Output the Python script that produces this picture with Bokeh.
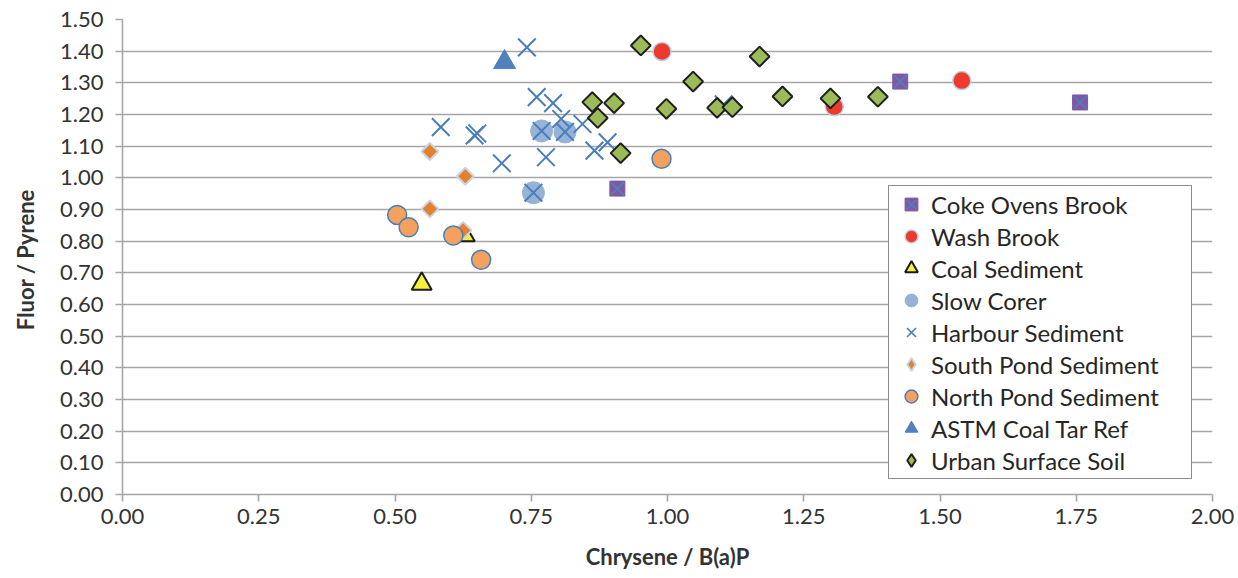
import math
from bokeh.plotting import figure
from bokeh.models import FixedTicker, NumeralTickFormatter, Legend, LegendItem, Range1d
from bokeh.embed import file_html
from bokeh.resources import INLINE

# ---- data ----
coke_x = [1.427, 1.757, 0.908]
coke_y = [1.304, 1.238, 0.966]

wash_x = [0.990, 1.306, 1.540]
wash_y = [1.399, 1.225, 1.307]

coal_x = [0.549, 0.628]
coal_y = [0.665, 0.818]

slow_x = [0.769, 0.812, 0.754]
slow_y = [1.148, 1.145, 0.953]

harb_x = [0.742, 0.760, 0.790, 0.805, 0.844, 0.584, 0.646, 0.651, 0.769, 0.812,
          0.890, 0.866, 0.777, 0.696, 0.754, 1.103]
harb_y = [1.412, 1.255, 1.236, 1.186, 1.170, 1.160, 1.134, 1.140, 1.148, 1.145,
          1.112, 1.086, 1.065, 1.046, 0.953, 1.232]

south_x = [0.564, 0.629, 0.564, 0.625]
south_y = [1.083, 1.005, 0.902, 0.834]

north_x = [0.504, 0.525, 0.607, 0.658, 0.989]
north_y = [0.883, 0.844, 0.818, 0.741, 1.060]

astm_x = [0.701]
astm_y = [1.365]

urban_x = [0.951, 1.047, 0.862, 0.902, 0.998, 0.872, 0.914, 1.169, 1.091, 1.119,
           1.211, 1.299, 1.386]
urban_y = [1.418, 1.304, 1.239, 1.236, 1.218, 1.189, 1.078, 1.383, 1.221, 1.223,
           1.257, 1.251, 1.256]

x_ticks = [0, 0.25, 0.5, 0.75, 1.0, 1.25, 1.5, 1.75, 2.0]
y_ticks = [round(i * 0.1, 2) for i in range(16)]

FONT = "Lato"
TXT = "#333333"
GRID = "#A6A6A6"

p = figure(width=1238, height=578, output_backend="svg", toolbar_location=None,
           x_range=Range1d(0, 2.0), y_range=Range1d(0, 1.5),
           min_border_left=122, min_border_right=26, min_border_top=19,
           min_border_bottom=84)
p.outline_line_color = None
p.background_fill_color = "white"
p.border_fill_color = "white"

p.xgrid.grid_line_color = None
p.ygrid.grid_line_color = GRID
p.ygrid.grid_line_width = 1.6

for ax in (p.xaxis[0], p.yaxis[0]):
    ax.axis_line_color = GRID
    ax.axis_line_width = 1.6
    ax.major_tick_line_color = GRID
    ax.major_tick_line_width = 1.6
    ax.major_tick_out = 7
    ax.major_tick_in = 0
    ax.minor_tick_line_color = None
    ax.major_label_text_font = FONT
    ax.major_label_text_font_size = "22px"
    ax.major_label_text_color = TXT
    ax.axis_label_text_font = FONT
    ax.axis_label_text_font_size = "22px"
    ax.axis_label_text_font_style = "bold"
    ax.axis_label_text_color = TXT
    ax.formatter = NumeralTickFormatter(format="0.00")

p.xaxis[0].ticker = FixedTicker(ticks=x_ticks)
p.yaxis[0].ticker = FixedTicker(ticks=y_ticks)
p.xaxis[0].axis_label = "Chrysene / B(a)P"
p.yaxis[0].axis_label = "Fluor  / Pyrene"
p.xaxis[0].major_label_standoff = 7
p.yaxis[0].major_label_standoff = 12
p.xaxis[0].axis_label_standoff = 16
p.yaxis[0].axis_label_standoff = 18

r_coke_sq = p.scatter(coke_x, coke_y, marker="square", size=15,
                      fill_color="#7F58A4", line_color="#7F58A4", line_width=1)
r_coke_x = p.scatter(coke_x, coke_y, marker="x", size=19,
                     line_color="#4F81BD", line_width=1.5)
r_wash = p.scatter(wash_x, wash_y, marker="circle", size=18,
                   fill_color="#EE3A2C", line_color="#B9CDE5", line_width=1.5)
r_coal = p.scatter(coal_x, coal_y, marker="triangle", size=20,
                   fill_color="#F5F03A", line_color="#1A1A1A", line_width=2)
r_slow = p.scatter(slow_x, slow_y, marker="circle", size=22,
                   fill_color="#95B3D7", line_color="#95B3D7", line_width=1)
r_harb = p.scatter(harb_x, harb_y, marker="x", size=25,
                   line_color="#4A7EBB", line_width=2)
r_south = p.scatter(south_x, south_y, marker="square", size=12, angle=math.pi / 4,
                    fill_color="#E5812D", line_color="#C6D5E8", line_width=2)
r_north = p.scatter(north_x, north_y, marker="circle", size=19,
                    fill_color="#F4A15E", line_color="#4A7EBB", line_width=1.5)
r_astm = p.scatter(astm_x, astm_y, marker="triangle", size=22,
                   fill_color="#4F81BD", line_color="#4F81BD", line_width=1)
r_urban = p.scatter(urban_x, urban_y, marker="square", size=14, angle=math.pi / 4,
                    fill_color="#9BBB59", line_color="#1F1F1F", line_width=2)

# legend-only stand-ins for the rotated-square (diamond) series
nan = [float("nan")]
r_south_leg = p.scatter(nan, nan, marker="diamond", size=12,
                        fill_color="#E5812D", line_color="#C6D5E8", line_width=2)
r_urban_leg = p.scatter(nan, nan, marker="diamond", size=14,
                        fill_color="#9BBB59", line_color="#1F1F1F", line_width=2)
r_harb_leg = p.scatter(nan, nan, marker="x", size=20,
                       line_color="#4A7EBB", line_width=1.6)

items = [
    LegendItem(label="Coke Ovens Brook", renderers=[r_coke_sq, r_coke_x]),
    LegendItem(label="Wash Brook", renderers=[r_wash]),
    LegendItem(label="Coal Sediment", renderers=[r_coal]),
    LegendItem(label="Slow Corer", renderers=[r_slow]),
    LegendItem(label="Harbour Sediment", renderers=[r_harb_leg]),
    LegendItem(label="South Pond Sediment", renderers=[r_south_leg]),
    LegendItem(label="North Pond Sediment", renderers=[r_north]),
    LegendItem(label="ASTM Coal Tar Ref", renderers=[r_astm]),
    LegendItem(label="Urban Surface Soil", renderers=[r_urban_leg]),
]
legend = Legend(items=items, location=(766, 15), padding=2, spacing=0,
                glyph_width=40, glyph_height=32, label_height=24,
                label_width=258, label_standoff=0, margin=0,
                label_text_font=FONT, label_text_font_size="24px",
                label_text_color="#262626",
                border_line_color="#1A1A1A", border_line_width=1.5,
                background_fill_color="white", background_fill_alpha=1.0)
p.add_layout(legend, "center")

open("out.html", "w").write(file_html(p, INLINE))
